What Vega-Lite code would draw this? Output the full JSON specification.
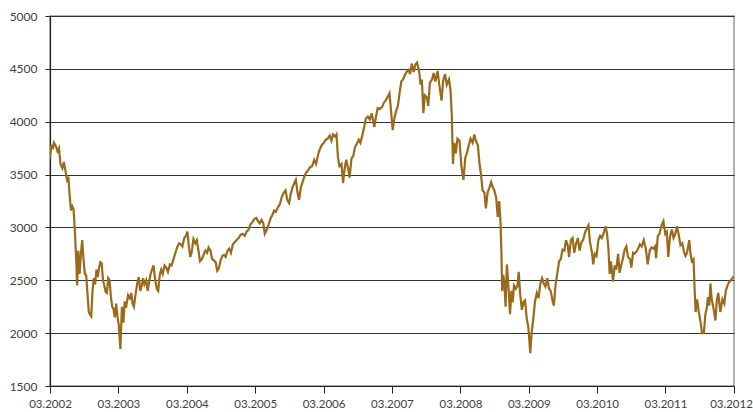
{
  "$schema": "https://vega.github.io/schema/vega-lite/v6.json",
  "width": 684,
  "height": 370,
  "autosize": {"type": "none"},
  "padding": {"left": 50, "top": 16, "right": 19, "bottom": 26},
  "background": "white",
  "view": {"stroke": "#999999", "strokeWidth": 1.5},
  "config": {
    "font": "Lato",
    "axis": {"labelFont": "Lato", "labelFontSize": 12, "labelColor": "#404040", "domainColor": "#222222", "tickColor": "#222222", "gridColor": "#333333", "gridWidth": 1, "domainWidth": 1.2}
  },
  "data": {
    "values": [
      {"date": "2002-03-01", "value": 3650}, {"date": "2002-03-08", "value": 3780}, {"date": "2002-03-15", "value": 3740}, {"date": "2002-03-22", "value": 3800},
      {"date": "2002-04-01", "value": 3770}, {"date": "2002-04-10", "value": 3720}, {"date": "2002-04-18", "value": 3750}, {"date": "2002-04-26", "value": 3600},
      {"date": "2002-05-06", "value": 3560}, {"date": "2002-05-14", "value": 3620}, {"date": "2002-05-22", "value": 3540}, {"date": "2002-05-31", "value": 3450},
      {"date": "2002-06-07", "value": 3480}, {"date": "2002-06-14", "value": 3300}, {"date": "2002-06-21", "value": 3160}, {"date": "2002-06-28", "value": 3200},
      {"date": "2002-07-05", "value": 3170}, {"date": "2002-07-12", "value": 2960}, {"date": "2002-07-19", "value": 2700}, {"date": "2002-07-24", "value": 2450},
      {"date": "2002-07-30", "value": 2780}, {"date": "2002-08-06", "value": 2560}, {"date": "2002-08-13", "value": 2750}, {"date": "2002-08-20", "value": 2880},
      {"date": "2002-08-27", "value": 2700}, {"date": "2002-09-03", "value": 2560}, {"date": "2002-09-10", "value": 2550}, {"date": "2002-09-17", "value": 2380},
      {"date": "2002-09-24", "value": 2200}, {"date": "2002-09-30", "value": 2180}, {"date": "2002-10-07", "value": 2160}, {"date": "2002-10-14", "value": 2400},
      {"date": "2002-10-21", "value": 2520}, {"date": "2002-10-28", "value": 2460}, {"date": "2002-11-04", "value": 2600}, {"date": "2002-11-11", "value": 2530},
      {"date": "2002-11-18", "value": 2620}, {"date": "2002-11-25", "value": 2670}, {"date": "2002-12-02", "value": 2660}, {"date": "2002-12-09", "value": 2500},
      {"date": "2002-12-16", "value": 2450}, {"date": "2002-12-23", "value": 2390}, {"date": "2002-12-30", "value": 2380}, {"date": "2003-01-06", "value": 2520},
      {"date": "2003-01-13", "value": 2500}, {"date": "2003-01-20", "value": 2350}, {"date": "2003-01-27", "value": 2250}, {"date": "2003-02-03", "value": 2230},
      {"date": "2003-02-10", "value": 2150}, {"date": "2003-02-17", "value": 2280}, {"date": "2003-02-24", "value": 2160}, {"date": "2003-03-03", "value": 2080},
      {"date": "2003-03-12", "value": 1850}, {"date": "2003-03-20", "value": 2250}, {"date": "2003-03-28", "value": 2100},
      {"date": "2003-04-04", "value": 2300}, {"date": "2003-04-11", "value": 2240}, {"date": "2003-04-22", "value": 2360}, {"date": "2003-05-01", "value": 2330},
      {"date": "2003-05-09", "value": 2380}, {"date": "2003-05-16", "value": 2280}, {"date": "2003-05-23", "value": 2250}, {"date": "2003-06-02", "value": 2380},
      {"date": "2003-06-10", "value": 2470}, {"date": "2003-06-18", "value": 2530}, {"date": "2003-06-26", "value": 2400}, {"date": "2003-07-04", "value": 2450},
      {"date": "2003-07-11", "value": 2520}, {"date": "2003-07-18", "value": 2460}, {"date": "2003-07-28", "value": 2500}, {"date": "2003-08-05", "value": 2400},
      {"date": "2003-08-12", "value": 2480}, {"date": "2003-08-20", "value": 2560}, {"date": "2003-08-28", "value": 2600}, {"date": "2003-09-05", "value": 2640},
      {"date": "2003-09-12", "value": 2530}, {"date": "2003-09-22", "value": 2420}, {"date": "2003-09-30", "value": 2400}, {"date": "2003-10-08", "value": 2550},
      {"date": "2003-10-16", "value": 2600}, {"date": "2003-10-24", "value": 2560}, {"date": "2003-11-03", "value": 2640}, {"date": "2003-11-12", "value": 2620},
      {"date": "2003-11-21", "value": 2580}, {"date": "2003-12-01", "value": 2650}, {"date": "2003-12-10", "value": 2640}, {"date": "2003-12-19", "value": 2690},
      {"date": "2003-12-31", "value": 2760}, {"date": "2004-01-09", "value": 2810}, {"date": "2004-01-19", "value": 2850}, {"date": "2004-01-28", "value": 2840},
      {"date": "2004-02-06", "value": 2820}, {"date": "2004-02-16", "value": 2900}, {"date": "2004-02-25", "value": 2920}, {"date": "2004-03-04", "value": 2960},
      {"date": "2004-03-11", "value": 2830}, {"date": "2004-03-19", "value": 2720}, {"date": "2004-03-26", "value": 2760},
      {"date": "2004-04-05", "value": 2890}, {"date": "2004-04-15", "value": 2850}, {"date": "2004-04-23", "value": 2880}, {"date": "2004-05-03", "value": 2770},
      {"date": "2004-05-10", "value": 2680}, {"date": "2004-05-20", "value": 2700}, {"date": "2004-05-31", "value": 2750}, {"date": "2004-06-08", "value": 2780},
      {"date": "2004-06-17", "value": 2760}, {"date": "2004-06-25", "value": 2810}, {"date": "2004-07-05", "value": 2780}, {"date": "2004-07-14", "value": 2700},
      {"date": "2004-07-23", "value": 2690}, {"date": "2004-08-02", "value": 2670}, {"date": "2004-08-10", "value": 2590}, {"date": "2004-08-18", "value": 2610},
      {"date": "2004-08-27", "value": 2680}, {"date": "2004-09-06", "value": 2730}, {"date": "2004-09-15", "value": 2740}, {"date": "2004-09-24", "value": 2720},
      {"date": "2004-10-04", "value": 2780}, {"date": "2004-10-13", "value": 2800}, {"date": "2004-10-22", "value": 2760}, {"date": "2004-11-02", "value": 2840},
      {"date": "2004-11-11", "value": 2860}, {"date": "2004-11-22", "value": 2880}, {"date": "2004-12-02", "value": 2900}, {"date": "2004-12-13", "value": 2930},
      {"date": "2004-12-23", "value": 2940}, {"date": "2005-01-04", "value": 2920}, {"date": "2005-01-14", "value": 2960}, {"date": "2005-01-25", "value": 2980},
      {"date": "2005-02-04", "value": 3030}, {"date": "2005-02-14", "value": 3050}, {"date": "2005-02-24", "value": 3080}, {"date": "2005-03-07", "value": 3090},
      {"date": "2005-03-16", "value": 3060}, {"date": "2005-03-24", "value": 3040},
      {"date": "2005-04-04", "value": 3070}, {"date": "2005-04-13", "value": 3040}, {"date": "2005-04-21", "value": 2940}, {"date": "2005-05-02", "value": 2980},
      {"date": "2005-05-12", "value": 3030}, {"date": "2005-05-23", "value": 3090}, {"date": "2005-06-01", "value": 3120}, {"date": "2005-06-10", "value": 3160},
      {"date": "2005-06-20", "value": 3150}, {"date": "2005-06-30", "value": 3190}, {"date": "2005-07-11", "value": 3220}, {"date": "2005-07-21", "value": 3290},
      {"date": "2005-08-01", "value": 3330}, {"date": "2005-08-10", "value": 3350}, {"date": "2005-08-19", "value": 3260}, {"date": "2005-08-29", "value": 3230},
      {"date": "2005-09-07", "value": 3320}, {"date": "2005-09-16", "value": 3380}, {"date": "2005-09-26", "value": 3420}, {"date": "2005-10-04", "value": 3450},
      {"date": "2005-10-13", "value": 3330}, {"date": "2005-10-21", "value": 3260}, {"date": "2005-10-31", "value": 3380}, {"date": "2005-11-09", "value": 3430},
      {"date": "2005-11-18", "value": 3480}, {"date": "2005-11-29", "value": 3520}, {"date": "2005-12-08", "value": 3540}, {"date": "2005-12-19", "value": 3570},
      {"date": "2005-12-30", "value": 3580}, {"date": "2006-01-10", "value": 3640}, {"date": "2006-01-20", "value": 3600}, {"date": "2006-01-31", "value": 3690},
      {"date": "2006-02-09", "value": 3740}, {"date": "2006-02-20", "value": 3780}, {"date": "2006-03-02", "value": 3800}, {"date": "2006-03-13", "value": 3830},
      {"date": "2006-03-23", "value": 3840},
      {"date": "2006-04-03", "value": 3870}, {"date": "2006-04-12", "value": 3820}, {"date": "2006-04-21", "value": 3880}, {"date": "2006-05-02", "value": 3860},
      {"date": "2006-05-09", "value": 3880}, {"date": "2006-05-17", "value": 3660}, {"date": "2006-05-25", "value": 3580}, {"date": "2006-06-05", "value": 3600},
      {"date": "2006-06-13", "value": 3420}, {"date": "2006-06-22", "value": 3560}, {"date": "2006-06-30", "value": 3640}, {"date": "2006-07-10", "value": 3560},
      {"date": "2006-07-18", "value": 3470}, {"date": "2006-07-28", "value": 3650}, {"date": "2006-08-07", "value": 3680}, {"date": "2006-08-16", "value": 3760},
      {"date": "2006-08-25", "value": 3790}, {"date": "2006-09-05", "value": 3830}, {"date": "2006-09-14", "value": 3800}, {"date": "2006-09-25", "value": 3880},
      {"date": "2006-10-04", "value": 3950}, {"date": "2006-10-13", "value": 4030}, {"date": "2006-10-24", "value": 4050}, {"date": "2006-11-03", "value": 4020},
      {"date": "2006-11-13", "value": 4080}, {"date": "2006-11-27", "value": 3950}, {"date": "2006-12-06", "value": 4050}, {"date": "2006-12-15", "value": 4130},
      {"date": "2006-12-27", "value": 4120}, {"date": "2007-01-08", "value": 4140}, {"date": "2007-01-17", "value": 4180}, {"date": "2007-01-26", "value": 4200},
      {"date": "2007-02-05", "value": 4230}, {"date": "2007-02-16", "value": 4270}, {"date": "2007-02-27", "value": 4050}, {"date": "2007-03-05", "value": 3920},
      {"date": "2007-03-14", "value": 4030}, {"date": "2007-03-23", "value": 4100},
      {"date": "2007-04-02", "value": 4150}, {"date": "2007-04-11", "value": 4270}, {"date": "2007-04-20", "value": 4380}, {"date": "2007-04-30", "value": 4400},
      {"date": "2007-05-09", "value": 4440}, {"date": "2007-05-18", "value": 4470}, {"date": "2007-05-29", "value": 4490}, {"date": "2007-06-06", "value": 4450},
      {"date": "2007-06-15", "value": 4550}, {"date": "2007-06-25", "value": 4470}, {"date": "2007-07-04", "value": 4540}, {"date": "2007-07-13", "value": 4560},
      {"date": "2007-07-24", "value": 4480}, {"date": "2007-08-01", "value": 4350}, {"date": "2007-08-08", "value": 4400}, {"date": "2007-08-16", "value": 4080},
      {"date": "2007-08-24", "value": 4250}, {"date": "2007-09-04", "value": 4230}, {"date": "2007-09-11", "value": 4150}, {"date": "2007-09-20", "value": 4370},
      {"date": "2007-10-01", "value": 4400}, {"date": "2007-10-10", "value": 4460}, {"date": "2007-10-19", "value": 4380}, {"date": "2007-10-31", "value": 4480},
      {"date": "2007-11-09", "value": 4350}, {"date": "2007-11-21", "value": 4200}, {"date": "2007-11-30", "value": 4390}, {"date": "2007-12-10", "value": 4450},
      {"date": "2007-12-19", "value": 4350}, {"date": "2007-12-31", "value": 4400}, {"date": "2008-01-08", "value": 4300}, {"date": "2008-01-15", "value": 4050},
      {"date": "2008-01-21", "value": 3600}, {"date": "2008-01-28", "value": 3800}, {"date": "2008-02-05", "value": 3700}, {"date": "2008-02-14", "value": 3840},
      {"date": "2008-02-25", "value": 3820}, {"date": "2008-03-06", "value": 3580}, {"date": "2008-03-17", "value": 3450}, {"date": "2008-03-27", "value": 3660},
      {"date": "2008-04-04", "value": 3700}, {"date": "2008-04-15", "value": 3780}, {"date": "2008-04-24", "value": 3840}, {"date": "2008-05-05", "value": 3800},
      {"date": "2008-05-14", "value": 3880}, {"date": "2008-05-22", "value": 3820}, {"date": "2008-06-02", "value": 3780}, {"date": "2008-06-11", "value": 3600},
      {"date": "2008-06-19", "value": 3500}, {"date": "2008-06-27", "value": 3350}, {"date": "2008-07-07", "value": 3330}, {"date": "2008-07-15", "value": 3180},
      {"date": "2008-07-24", "value": 3330}, {"date": "2008-08-04", "value": 3380}, {"date": "2008-08-12", "value": 3430}, {"date": "2008-08-21", "value": 3380},
      {"date": "2008-08-29", "value": 3350}, {"date": "2008-09-08", "value": 3280}, {"date": "2008-09-16", "value": 3100}, {"date": "2008-09-24", "value": 3250},
      {"date": "2008-10-01", "value": 3050}, {"date": "2008-10-06", "value": 2750}, {"date": "2008-10-10", "value": 2400}, {"date": "2008-10-16", "value": 2550},
      {"date": "2008-10-22", "value": 2460}, {"date": "2008-10-28", "value": 2250}, {"date": "2008-11-04", "value": 2650}, {"date": "2008-11-12", "value": 2450},
      {"date": "2008-11-21", "value": 2180}, {"date": "2008-11-28", "value": 2400}, {"date": "2008-12-05", "value": 2290}, {"date": "2008-12-12", "value": 2450},
      {"date": "2008-12-22", "value": 2420}, {"date": "2008-12-31", "value": 2450}, {"date": "2009-01-06", "value": 2580}, {"date": "2009-01-14", "value": 2370},
      {"date": "2009-01-23", "value": 2220}, {"date": "2009-02-02", "value": 2300}, {"date": "2009-02-09", "value": 2310}, {"date": "2009-02-18", "value": 2140},
      {"date": "2009-02-27", "value": 2050}, {"date": "2009-03-09", "value": 1810}, {"date": "2009-03-16", "value": 2000}, {"date": "2009-03-26", "value": 2150},
      {"date": "2009-04-03", "value": 2300}, {"date": "2009-04-13", "value": 2380}, {"date": "2009-04-22", "value": 2330}, {"date": "2009-05-01", "value": 2460},
      {"date": "2009-05-11", "value": 2520}, {"date": "2009-05-20", "value": 2470}, {"date": "2009-05-29", "value": 2440}, {"date": "2009-06-08", "value": 2520},
      {"date": "2009-06-17", "value": 2420}, {"date": "2009-06-26", "value": 2400}, {"date": "2009-07-07", "value": 2300}, {"date": "2009-07-13", "value": 2260},
      {"date": "2009-07-22", "value": 2460}, {"date": "2009-07-31", "value": 2560}, {"date": "2009-08-10", "value": 2680}, {"date": "2009-08-19", "value": 2700},
      {"date": "2009-08-28", "value": 2790}, {"date": "2009-09-07", "value": 2780}, {"date": "2009-09-16", "value": 2880}, {"date": "2009-09-25", "value": 2830},
      {"date": "2009-10-02", "value": 2720}, {"date": "2009-10-12", "value": 2880}, {"date": "2009-10-21", "value": 2900}, {"date": "2009-10-30", "value": 2760},
      {"date": "2009-11-09", "value": 2850}, {"date": "2009-11-18", "value": 2900}, {"date": "2009-11-27", "value": 2780}, {"date": "2009-12-07", "value": 2860},
      {"date": "2009-12-16", "value": 2880}, {"date": "2009-12-28", "value": 2960}, {"date": "2010-01-06", "value": 2990}, {"date": "2010-01-14", "value": 3020},
      {"date": "2010-01-22", "value": 2860}, {"date": "2010-02-02", "value": 2760}, {"date": "2010-02-08", "value": 2650}, {"date": "2010-02-17", "value": 2750},
      {"date": "2010-02-26", "value": 2730}, {"date": "2010-03-08", "value": 2880}, {"date": "2010-03-17", "value": 2920}, {"date": "2010-03-26", "value": 2900},
      {"date": "2010-04-06", "value": 2950}, {"date": "2010-04-15", "value": 3010}, {"date": "2010-04-23", "value": 2940}, {"date": "2010-04-30", "value": 2810},
      {"date": "2010-05-07", "value": 2560}, {"date": "2010-05-14", "value": 2680}, {"date": "2010-05-25", "value": 2490}, {"date": "2010-06-03", "value": 2640},
      {"date": "2010-06-11", "value": 2600}, {"date": "2010-06-21", "value": 2750}, {"date": "2010-06-29", "value": 2570}, {"date": "2010-07-07", "value": 2640},
      {"date": "2010-07-16", "value": 2700}, {"date": "2010-07-26", "value": 2790}, {"date": "2010-08-04", "value": 2820}, {"date": "2010-08-13", "value": 2720},
      {"date": "2010-08-24", "value": 2700}, {"date": "2010-08-31", "value": 2620}, {"date": "2010-09-09", "value": 2760}, {"date": "2010-09-17", "value": 2750},
      {"date": "2010-09-27", "value": 2770}, {"date": "2010-10-06", "value": 2800}, {"date": "2010-10-15", "value": 2840}, {"date": "2010-10-25", "value": 2820},
      {"date": "2010-11-05", "value": 2880}, {"date": "2010-11-16", "value": 2800}, {"date": "2010-11-26", "value": 2650}, {"date": "2010-12-07", "value": 2780},
      {"date": "2010-12-16", "value": 2810}, {"date": "2010-12-28", "value": 2800}, {"date": "2011-01-05", "value": 2820}, {"date": "2011-01-10", "value": 2710},
      {"date": "2011-01-19", "value": 2920}, {"date": "2011-01-28", "value": 2940}, {"date": "2011-02-08", "value": 3020}, {"date": "2011-02-18", "value": 3060},
      {"date": "2011-02-28", "value": 2940}, {"date": "2011-03-08", "value": 2960}, {"date": "2011-03-16", "value": 2720}, {"date": "2011-03-25", "value": 2910},
      {"date": "2011-04-04", "value": 2980}, {"date": "2011-04-13", "value": 2900}, {"date": "2011-04-21", "value": 2930}, {"date": "2011-05-02", "value": 3010},
      {"date": "2011-05-11", "value": 2930}, {"date": "2011-05-20", "value": 2830}, {"date": "2011-05-30", "value": 2850}, {"date": "2011-06-08", "value": 2770},
      {"date": "2011-06-16", "value": 2730}, {"date": "2011-06-24", "value": 2760}, {"date": "2011-07-06", "value": 2880}, {"date": "2011-07-12", "value": 2760},
      {"date": "2011-07-20", "value": 2680}, {"date": "2011-07-29", "value": 2700}, {"date": "2011-08-04", "value": 2400}, {"date": "2011-08-09", "value": 2200},
      {"date": "2011-08-17", "value": 2320}, {"date": "2011-08-26", "value": 2200}, {"date": "2011-09-05", "value": 2100}, {"date": "2011-09-12", "value": 2000},
      {"date": "2011-09-22", "value": 2000}, {"date": "2011-09-30", "value": 2180}, {"date": "2011-10-07", "value": 2230}, {"date": "2011-10-14", "value": 2340},
      {"date": "2011-10-21", "value": 2260}, {"date": "2011-10-27", "value": 2470}, {"date": "2011-11-03", "value": 2320}, {"date": "2011-11-11", "value": 2250},
      {"date": "2011-11-23", "value": 2120}, {"date": "2011-11-30", "value": 2310}, {"date": "2011-12-08", "value": 2380}, {"date": "2011-12-19", "value": 2200},
      {"date": "2011-12-30", "value": 2320}, {"date": "2012-01-09", "value": 2280}, {"date": "2012-01-17", "value": 2400}, {"date": "2012-01-26", "value": 2450},
      {"date": "2012-02-03", "value": 2480}, {"date": "2012-02-13", "value": 2500}, {"date": "2012-02-22", "value": 2520}, {"date": "2012-03-01", "value": 2540}
    ]
  },
  "mark": {"type": "line", "color": "#9a6a1a", "strokeWidth": 2.2, "clip": true},
  "encoding": {
    "x": {
      "field": "date",
      "type": "temporal",
      "scale": {"type": "utc", "domain": [{"year": 2002, "month": 3, "date": 1, "utc": true}, {"year": 2012, "month": 3, "date": 1, "utc": true}], "nice": false},
      "axis": {
        "title": null,
        "grid": false,
        "format": "%m.%Y",
        "values": [
          {"year": 2002, "month": 3, "date": 1, "utc": true}, {"year": 2003, "month": 3, "date": 1, "utc": true}, {"year": 2004, "month": 3, "date": 1, "utc": true},
          {"year": 2005, "month": 3, "date": 1, "utc": true}, {"year": 2006, "month": 3, "date": 1, "utc": true}, {"year": 2007, "month": 3, "date": 1, "utc": true},
          {"year": 2008, "month": 3, "date": 1, "utc": true}, {"year": 2009, "month": 3, "date": 1, "utc": true}, {"year": 2010, "month": 3, "date": 1, "utc": true},
          {"year": 2011, "month": 3, "date": 1, "utc": true}, {"year": 2012, "month": 3, "date": 1, "utc": true}
        ],
        "tickSize": 7,
        "labelPadding": 5,
        "labelFontSize": 11.5,
        "labelOffset": {"condition": {"test": "utcyear(datum.value) == 2012", "value": -3}, "value": 0},
        "labelOverlap": false,
        "labelFlush": false
      }
    },
    "y": {
      "field": "value",
      "type": "quantitative",
      "scale": {"domain": [1500, 5000], "nice": false, "zero": false},
      "axis": {
        "title": null,
        "format": "d",
        "values": [1500, 2000, 2500, 3000, 3500, 4000, 4500, 5000],
        "tickSize": 5,
        "labelPadding": 8,
        "grid": true
      }
    }
  }
}
